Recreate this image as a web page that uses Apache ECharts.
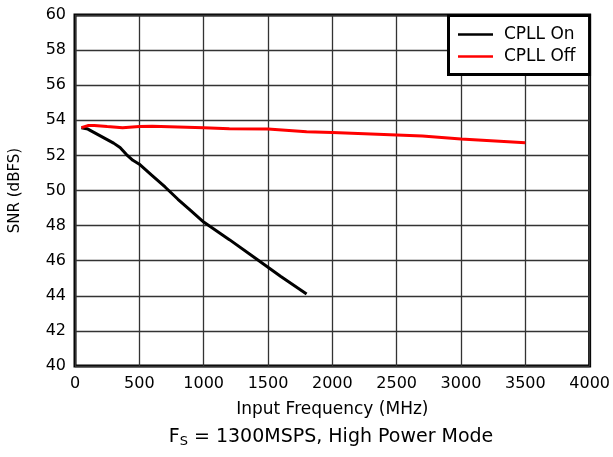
<!DOCTYPE html>
<html>
<head>
<meta charset="utf-8">
<script src="https://cdn.jsdelivr.net/npm/echarts@6/dist/echarts.min.js"></script>
<style>
html,body{margin:0;padding:0;background:#fff;}
#chart{width:613px;height:457px;}
</style>
</head>
<body>
<div id="chart"></div>
<script>
// Data
var freqOn = [50, 100, 150, 200, 250, 300, 350, 400, 450, 500, 600, 700, 800, 900, 1000, 1200, 1400, 1600, 1800];
var snrOn  = [53.58, 53.5, 53.3, 53.1, 52.9, 52.7, 52.45, 52.05, 51.72, 51.5, 50.85, 50.2, 49.5, 48.85, 48.2, 47.2, 46.15, 45.1, 44.1];
var freqOff = [50, 100, 150, 250, 370, 500, 600, 1000, 1200, 1500, 1800, 2000, 2500, 2700, 3000, 3500];
var snrOff  = [53.58, 53.7, 53.7, 53.64, 53.58, 53.65, 53.66, 53.58, 53.52, 53.5, 53.35, 53.3, 53.16, 53.1, 52.93, 52.72];
var seriesNames = ['CPLL On', 'CPLL Off'];
var xTitle = 'Input Frequency (MHz)';
var yTitle = 'SNR (dBFS)';

function pairs(xs, ys) { return xs.map(function (x, i) { return [x, ys[i]]; }); }

var FONT = 'DejaVu Sans';
var chart = echarts.init(document.getElementById('chart'), null, {renderer: 'canvas'});
chart.setOption({
  animation: false,
  backgroundColor: '#fff',
  grid: {left: 71, right: 22, top: 15, bottom: 91, show: true, borderColor: '#000', borderWidth: 3, containLabel: false},
  xAxis: {
    type: 'value', min: 0, max: 4000, interval: 500,
    name: xTitle, nameLocation: 'middle', nameGap: 35,
    nameTextStyle: {fontFamily: FONT, fontSize: 17, color: '#000'},
    axisLine: {show: false},
    axisTick: {show: false},
    axisLabel: {fontFamily: FONT, fontSize: 16, color: '#000', margin: 10,
      formatter: function (v) { return String(v); }},
    splitLine: {show: true, lineStyle: {color: '#333', width: 1.3}}
  },
  yAxis: {
    type: 'value', min: 40, max: 60, interval: 2,
    name: yTitle, nameLocation: 'middle', nameGap: 52,
    nameTextStyle: {fontFamily: FONT, fontSize: 15, color: '#000'},
    axisLine: {show: false},
    axisTick: {show: false},
    axisLabel: {fontFamily: FONT, fontSize: 16, color: '#000', margin: 9},
    splitLine: {show: true, lineStyle: {color: '#333', width: 1.3}}
  },
  legend: {
    left: 448.5, top: 15.5, orient: 'vertical',
    backgroundColor: '#fff', borderColor: '#000', borderWidth: 3,
    padding: [10, 14, 9, 9.5], itemGap: 4,
    icon: 'rect', itemWidth: 35, itemHeight: 2.5,
    textStyle: {fontFamily: FONT, fontSize: 17, color: '#000', lineHeight: 18, padding: [0, 0, 0, 6]},
    data: seriesNames
  },
  graphic: [{
    type: 'text', x: 331, y: 437,
    style: {
      text: '{a|F}{b|S}{a| = 1300MSPS, High Power Mode}',
      align: 'center', verticalAlign: 'middle',
      rich: {
        a: {fontFamily: FONT, fontSize: 19, fill: '#000', lineHeight: 24},
        b: {fontFamily: FONT, fontSize: 13, fill: '#000', lineHeight: 24, padding: [9, 0, 0, 0]}
      }
    }
  }],
  series: [
    {name: seriesNames[0], type: 'line', data: pairs(freqOn, snrOn), symbol: 'none', smooth: false,
     lineStyle: {color: '#000', width: 3}, itemStyle: {color: '#000'}, z: 3},
    {name: seriesNames[1], type: 'line', data: pairs(freqOff, snrOff), symbol: 'none', smooth: false,
     lineStyle: {color: '#ff0000', width: 3}, itemStyle: {color: '#ff0000'}, z: 4}
  ]
});
</script>
</body>
</html>
